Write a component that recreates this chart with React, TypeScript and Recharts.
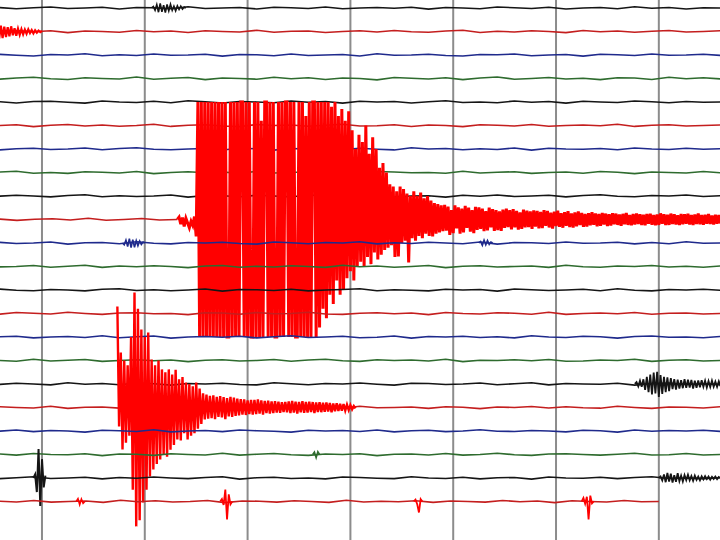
import { LineChart, Line, XAxis, YAxis, ReferenceLine } from 'recharts';

// one trace spacing = 100 counts, time in seconds, grid every 60 s
const ROW = 100;
const TRACE_COLORS = ['#151515', '#c41e1e', '#1f2a8c', '#2e6b2e'];
const EVENT_RED = '#ff0000';
const GRID_TIMES = [0, 60, 120, 180, 240, 300, 360];

// background noise per trace (counts), evenly sampled from START to END
const START = -25;
const END = 396;

const N0 = [2, -3, 1, 4, -2, 0, 3, -4, 2, 1, -3, 5, -2, 0, 2, -4, 3, 1, -2, 4, -3, 0, 2, -1, 3, -5, 2, 0, -3, 4, 1, -2, 3, -4, 0, 2, -3, 5, -1, 2, -4, 1, 0];
const N1 = [-2, 4, -1, 3, -5, 2, 0, -3, 4, -1, 2, -4, 3, 0, -2, 5, -3, 1, 2, -4, 0, 3, -2, 4, -1, -3, 2, 5, -4, 1, -2, 3, 0, -5, 4, -1, 2, -3, 1, 4, -2, 0, 3];
const N2 = [3, -1, -4, 2, 0, 5, -3, 1, -2, 4, -1, 0, 3, -5, 2, 1, -3, 4, -2, 0, 2, -4, 5, -1, 0, 3, -2, -4, 2, 1, 4, -3, 0, 2, -5, 3, 1, -2, 4, -1, 0, 3, -2];
const N3 = [-3, 2, 5, -1, -4, 3, 0, -2, 6, -3, 1, 4, -5, 2, 0, -3, 5, -1, 3, -4, 2, 0, -6, 4, 1, -2, 3, -5, 2, 6, -3, 0, 4, -2, 1, -5, 3, 2, -4, 5, -1, 3, -2];
const N4 = [1, -4, 2, 3, -1, -5, 4, 0, -2, 3, -3, 5, 1, -4, 2, 0, -3, 4, -1, 2, -5, 3, 0, 2, -4, 1, 5, -2, 0, -3, 4, -1, 2, -5, 3, 0, -2, 4, 1, -3, 2, -1, 0];
const N5 = [0, 3, -5, 1, 4, -2, 2, -3, 0, 5, -4, 1, 3, -2, -5, 4, 0, 2, -3, 1, 5, -2, -1, 3, -4, 2, 0, -5, 3, 1, -2, 4, -3, 0, 2, -1, 5, -4, 1, 3, -2, 0, 2];
const N6 = [-4, 1, 3, -2, 0, 4, -3, 2, 5, -1, -3, 0, 2, -4, 3, 1, -5, 2, 0, 4, -2, 3, -1, -4, 5, 0, 2, -3, 1, -2, 4, -5, 3, 0, -1, 2, -3, 4, 0, -2, 3, -1, 1];
const N7 = [2, 5, -3, 0, -4, 3, 1, -2, 4, -5, 0, 3, -1, 2, -4, 5, -2, 0, 3, -3, 1, -5, 4, 2, -1, 0, -3, 5, -2, 1, 3, -4, 0, 2, -3, 4, 1, -5, 2, 0, -2, 4, -1];
const N8 = [-1, 3, 0, -4, 2, 5, -3, 1, -2, 0, 4, -5, 2, 1, -3, 3, 0, -4, 5, -1, -2, 2, 4, -3, 0, 1, -5, 3, -1, 4, -2, 0, 3, -4, 2, 5, -1, -3, 2, 0, 4, -2, 1];
const N9 = [2, -4, 1, 3, -2, 5, -3, 0, 4, -2, 0];
const N10 = [3, -2, 0, 4, -5, 1, 2, -3, 5, -1, -4, 2, 0, 3, -2, -5, 4, 1, -3, 2, 0, 5, -4, 1, -2, 3, 0, -3, 4, -5, 2, 1, -2, 4, -1, 0, 3, -4, 2, -3, 5, -1, 0];
const N11 = [-2, 0, 4, -3, 1, 5, -4, 2, -1, 3, 0, -5, 2, 4, -3, 1, -2, 3, 0, -4, 5, -1, 2, -3, 0, 4, -5, 1, 3, -2, 0, 2, -4, 5, -1, -3, 2, 0, 4, -2, 1, -3, 2];
const N12 = [4, -1, -3, 2, 0, -4, 3, 5, -2, 1, -3, 0, 4, -5, 2, 1, -2, 3, -4, 0, 2, 5, -3, 1, -1, -4, 3, 0, 2, -5, 4, 1, -2, 0, 3, -3, 5, -1, -4, 2, 0, 3, -1];
const N13 = [-3, 4, 1, -2, 5, 0, -4, 2, 3, -1, 0, -5, 3, 2, -3, 4, -1, 0, 5, -2, -4, 1, 3, -1, 2, -5, 4, 0, -2, 3, 1, -3, 5, -4, 0, 2, -1, 4, -3, 1, 2, -2, 0];
const N14 = [1, 3, -4, 0, 2, -2, 5, -3, 1, 4, -5, 0, 2, -1, 3, -4, 1, 5, -2, 0, 3, -3, -1, 4, -5, 2, 0, 3, -2, 1, -4, 5, 0, -2, 3, 1, -5, 2, 4, -1, 0, -3, 2];
const N15 = [0, -3, 5, -2, 1, 4, -4, 0, 3, -1, 2, -5, 1, 3, -2, 0, 4, -3, 2, 5, -1, -4, 3, 0, 2, -2, 5, -5, 1, 0, 3, -1, 4, -3, -2, 2, 0, 5, -4, 1, 3, -2, 0];
const N16 = [-2, 3, 0, -4, 5, -1, 2, -3, 4, 1, -5, 2, 0, 3, -2, -4, 5, 1, -3, 2, 0, 4, -1, -5, 3, 2, -2, 0, 4, -3, 1, 5, -4, 2, 0, -1, 3, -5, 2, 4, -2, 1, -3];
const N17 = [3, 0, -2, 5, -4, 1, 2, -3, 0, 4, -1, -5, 3, 2, -2, 4, 0, -4, 1, 3, -3, 5, -1, 0, 2, -4, 3, 1, -5, 2, 0, 4, -2, 3, -1, -3, 5, 0, -4, 2, 1, -2, 3];
const N18 = [-1, 4, -3, 2, 0, -5, 3, 1, -2, 5, -4, 0, 2, -3, 4, 1, -1, -5, 3, 0, 2, -2, 4, -4, 1, 3, -3, 0, 5, -1, -2, 2, 0, -4, 3, 1, -5, 4, -1, 2, 0, 3, -2];
const N19 = [2, -3, 4, 0, -1, 3, -5, 2, 1, -4, 3, 0, -2, 5, -3, 1, 4, -1, -4, 2, 0, 3, -5, 1, 2, -2, 4, -3, 0, 5, -1, -4, 2, 3, 0, -3, 1, 5, -2, -1, 4, -2, 0];
const N20 = [-3, 1, 5, -2, 0, 3, -4, 2, -1, 4, 0, -3, 2, 5, -5, 1, 3, -2, 0, -4, 4, 2, -1, -3, 5, 0, -2, 3, -4, 1, 2, -5, 4, 0, -1, 3, -3, 2, 5, -2, 0, -3, 1];
const N21 = [1, -2, 4, -3, 0, 2, -4, 5, -1, 3, -2, 0, 4, -5, 2, 1, -3, 3, 0, -4, 5, -2, 1, -1, 3, -4, 2, 0, -3, 4, -1, 2, -5, 3, 0, -2, 4, -1, 0];

const NOISE = [N0, N1, N2, N3, N4, N5, N6, N7, N8, N9, N10, N11, N12, N13, N14, N15, N16, N17, N18, N19, N20, N21];
// traces that do not run the full width
const NOISE_END: Record<number, number> = { 9: 79, 21: 360 };

// events (counts, positive = up), sampled every second
const TOP_BURST = [0, 6, -10, 14, -18, 20, -16, 12, -20, 15, -12, 16, -10, 8, -12, 9, -6, 8, -5, 4, 0];
const EARLY_CODA = [-30, 25, -28, 20, -24, 18, -20, 22, -16, 14, -18, 12, -14, 10, -12, 8, -10, 9, -7, 6, -8, 5, -5, 4, -3, 2];
const MAIN_PRE = [0, 10, -20, 8, -30, 5, -15, -35, -8, -25, 12, -72];
// clipped at +/-500
const MAIN_BURST = [
  500, -500, 500, -500, 500, -500, 500, -500, 500, -500, 500, -500, 500, -500,
  500, -500, 500, -500, -500, 500, -500, 500, -500, 500,
  -500, 500, 500, -500, 500, -500, 500, -500, -500, 500,
  -500, 500, -500, 420, -500, 500, 500, -500, 500, -500,
  500, -500, -500, 500, -500, 500, -500, 500, 500, -500,
  500, -500, 500, -500, -500, 500, -500, 500, -500, 440,
  -500, 500, -500, 500, 500, -500, 500, -460, 500, -380,
  500, -420, 500, -320, 480, -360, 500, -260, 440, -320,
  470, -300, 420, -250, 460, -220, 380, -260, 300, -200,
  360, -180, 330, -200, 400, -160, 280, -190, 350, -140,
  300, -170, 220, -150, 240, -130, 200, -120, 150, -110,
  140, -160, 120, -157, 140, -100, 130, -90, 110, -183,
  100, -80, 120, -90, 100, -70, 115, -80, 90, -60,
  100, -70, 80, -72, 70, -60, 65, -55, 60, -50,
];
const MAIN_CODA = [
  62, -48, 55, -66, 40, -58, 60, -38, 52, -60,
  46, -55, 58, -36, 50, -52, 40, -58, 54, -44,
  52, -40, 46, -50, 36, -46, 50, -34, 44, -48,
  40, -45, 34, -48, 42, -36, 46, -32, 40, -42,
  44, -34, 37, -43, 30, -40, 42, -33, 38, -32,
  34, -40, 39, -30, 36, -38, 32, -37, 40, -27,
  36, -34, 29, -39, 33, -28, 38, -31, 27, -35,
  31, -27, 35, -32, 26, -34, 30, -29, 34, -24,
  28, -31, 24, -30, 27, -25, 31, -23, 26, -29,
  24, -27, 28, -21, 25, -28, 22, -26, 27, -20,
  25, -23, 21, -27, 24, -20, 28, -23, 19, -25,
  23, -21, 26, -19, 22, -24, 20, -25, 23, -18,
  24, -22, 19, -25, 21, -23, 26, -18, 22, -24,
  20, -23, 25, -19, 22, -21, 18, -24, 23, -20,
  22, -18, 24, -21, 19, -23, 21, -19, 25, -20,
  19, -22, 20, -18, 23, -19, 17, -21, 20, -18, 19, -17,
];
const LOCAL_QUAKE = [
  430, -81, 234, -179, 200, -150, 180, -120, 300, -350,
  489, -506, 420, -480, 332, -404, 300, -350, 319, -294,
  204, -264, 180, -240, 200, -221, 162, -200, 150, -210,
  162, -180, 140, -160, 160, -136, 120, -140, 130, -110,
  106, -136, 100, -120, 90, -110, 106, -90, 80, -70,
  60, -51, 55, -48, 50, -45, 52, -50, 45, -40,
  48, -42, 44, -50, 40, -38, 45, -40, 42, -36,
  38, -34, 36, -30, 34, -32, 30, -28, 32, -30,
  32, -28, 34, -26, 30, -30, 28, -24, 29, -26,
  26, -24, 27, -22, 25, -23, 22, -20, 24, -21,
  26, -24, 28, -22, 25, -26, 24, -21, 27, -23,
  24, -22, 25, -20, 23, -24, 21, -19, 22, -20,
  20, -18, 21, -17, 19, -20, 17, -16, 18, -15,
  16, -14, 15, -13, 12, -11, 10, -8, 6, -4,
];
const BLUE_BLIP_A = [0, -8, 12, -15, 18, -20, 14, -18, 10, -12, 8, -6, 4, 0];
const BLUE_BLIP_B = [0, 6, -10, 12, -8, 10, -6, 4, 0];
const RIGHT_BURST = [
  0, 8, -10, 14, -12, 20, -25, 30, -35, 40,
  -45, 48, -40, 52, -55, 38, -42, 30, -35, 28,
  -30, 25, -22, 20, -24, 18, -20, 16, -18, 20,
  -16, 18, -15, 17, -20, 14, -16, 15, -14, 16,
  -12, 14, -15, 12, -13, 14, -12, 10, -12, 11, -10,
];
const GREEN_BLIP = [0, 10, -14, 12, 0];
const BLACK_SPIKE = [0, 15, -60, 123, -119, 80, -40, 10];
const BLACK_TAIL = [0, 6, -10, 15, -18, 21, -15, 18, -20, 12, -16, 20, -14, 10, -15, 12, -9, 14, -10, 8, -12, 10, -8, 6, -10, 7, -6, 8, -5, 6, -7, 5, -4, 6, -5, 4, 0];
const RED_BUMP = [0, 12, -14, 10, -8, 0];
const RED_SPIKE_A = [0, 10, -15, 51, -77, 30, -12, 0];
const RED_SPIKE_B = [0, 8, -12, -47, 10, 0];
const RED_SPIKE_C = [0, 15, -10, 20, -77, 25, -8, 0];

type Seg = { t0: number; step: number; values: number[] };
type Ev = { trace: number; color: string; width: number; segs: Seg[] };

const EVENTS: Ev[] = [
  { trace: 0, color: TRACE_COLORS[0], width: 1.6, segs: [{ t0: 64, step: 1, values: TOP_BURST }] },
  { trace: 1, color: EVENT_RED, width: 2.2, segs: [{ t0: -25, step: 1, values: EARLY_CODA }] },
  {
    trace: 9, color: EVENT_RED, width: 3,
    segs: [
      { t0: 79, step: 1, values: MAIN_PRE },
      { t0: 91, step: 1, values: MAIN_BURST },
      { t0: 235, step: 1, values: MAIN_CODA },
    ],
  },
  { trace: 10, color: TRACE_COLORS[2], width: 1.6, segs: [{ t0: 47, step: 1, values: BLUE_BLIP_A }] },
  { trace: 10, color: TRACE_COLORS[2], width: 1.6, segs: [{ t0: 255, step: 1, values: BLUE_BLIP_B }] },
  { trace: 16, color: TRACE_COLORS[0], width: 1.8, segs: [{ t0: 346, step: 1, values: RIGHT_BURST }] },
  { trace: 17, color: EVENT_RED, width: 2.4, segs: [{ t0: 44, step: 1, values: LOCAL_QUAKE }] },
  { trace: 19, color: TRACE_COLORS[3], width: 1.6, segs: [{ t0: 158, step: 1, values: GREEN_BLIP }] },
  { trace: 20, color: TRACE_COLORS[0], width: 2, segs: [{ t0: -5, step: 1, values: BLACK_SPIKE }] },
  { trace: 20, color: TRACE_COLORS[0], width: 1.8, segs: [{ t0: 360, step: 1, values: BLACK_TAIL }] },
  { trace: 21, color: EVENT_RED, width: 1.6, segs: [{ t0: 20, step: 1, values: RED_BUMP }] },
  { trace: 21, color: EVENT_RED, width: 1.8, segs: [{ t0: 104, step: 1, values: RED_SPIKE_A }] },
  { trace: 21, color: EVENT_RED, width: 1.8, segs: [{ t0: 217, step: 1, values: RED_SPIKE_B }] },
  { trace: 21, color: EVENT_RED, width: 1.8, segs: [{ t0: 315, step: 1, values: RED_SPIKE_C }] },
];

function toPoints(trace: number, segs: Seg[]) {
  const pts: { t: number; y: number }[] = [];
  segs.forEach((s) => s.values.forEach((v, k) => pts.push({ t: s.t0 + k * s.step, y: trace * ROW - v })));
  return pts;
}

const series: { key: string; color: string; width: number; data: { t: number; y: number }[] }[] = [];
NOISE.forEach((vals, i) => {
  const end = NOISE_END[i] ?? END;
  const step = (end - START) / (vals.length - 1);
  series.push({
    key: `n${i}`,
    color: TRACE_COLORS[i % 4],
    width: 1.6,
    data: toPoints(i, [{ t0: START, step, values: vals }]),
  });
  EVENTS.forEach((ev, j) => {
    if (ev.trace === i) series.push({ key: `e${j}`, color: ev.color, width: ev.width, data: toPoints(i, ev.segs) });
  });
});

export default function App() {
  return (
    <div style={{ position: 'absolute', left: 0, top: 0, width: 720, height: 540, background: '#fff' }}>
      <LineChart width={720} height={540} margin={{ top: 0, right: 0, bottom: 0, left: 0 }}>
        <XAxis type="number" dataKey="t" domain={[-24.5, 395.7]} allowDataOverflow hide />
        <YAxis type="number" dataKey="y" domain={[-34, 2264]} reversed allowDataOverflow hide />
        {GRID_TIMES.map((t) => (
          <ReferenceLine key={t} x={t} stroke="#8c8c8c" strokeWidth={2} />
        ))}
        {series.map((s) => (
          <Line
            key={s.key}
            data={s.data}
            dataKey="y"
            type="linear"
            stroke={s.color}
            strokeWidth={s.width}
            dot={false}
            activeDot={false}
            isAnimationActive={false}
          />
        ))}
      </LineChart>
    </div>
  );
}
